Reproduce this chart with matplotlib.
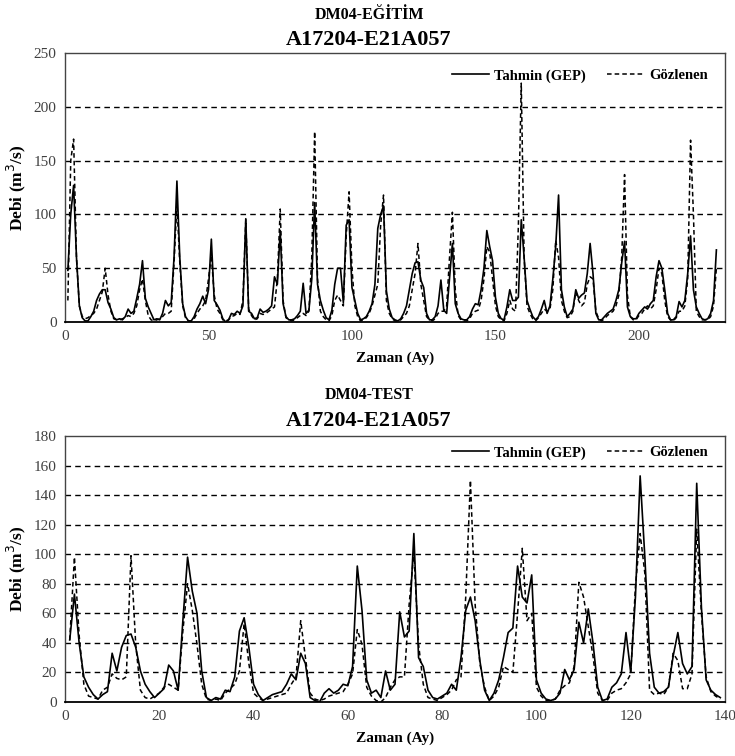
import numpy as np
import matplotlib
matplotlib.use("Agg")
import matplotlib.pyplot as plt

plt.rcParams['font.family'] = ['Liberation Serif', 'DejaVu Serif']

# ---- training period (EĞİTİM), months 1..227
pred_train = [
    48, 100, 127, 60, 15, 4, 1, 1, 5, 10, 20, 26,
    30, 30, 18, 12, 4, 2, 3, 2, 5, 12, 8, 10,
    22, 35, 57, 22, 14, 8, 2, 3, 2, 8, 20, 15,
    18, 60, 131, 60, 17, 5, 1, 1, 5, 12, 17, 24,
    17, 30, 77, 20, 16, 11, 3, 0, 2, 8, 7, 10,
    8, 15, 96, 10, 8, 3, 4, 12, 9, 10, 12, 15,
    42, 35, 85, 17, 5, 2, 2, 3, 6, 10, 36, 8,
    11, 40, 111, 35, 20, 11, 4, 2, 11, 35, 50, 50,
    18, 90, 95, 32, 20, 8, 2, 3, 5, 10, 17, 35,
    87, 100, 108, 29, 12, 4, 2, 1, 3, 8, 15, 30,
    45, 55, 56, 39, 32, 8, 2, 2, 5, 15, 39, 11,
    8, 40, 73, 17, 8, 3, 2, 2, 5, 12, 17, 16,
    30, 50, 85, 70, 57, 23, 8, 3, 2, 14, 30, 20,
    20, 23, 95, 60, 20, 12, 5, 2, 5, 12, 20, 8,
    15, 40, 70, 118, 30, 14, 5, 8, 12, 30, 22, 25,
    27, 45, 73, 45, 8, 2, 2, 5, 8, 10, 12, 20,
    30, 55, 75, 14, 5, 3, 3, 8, 11, 14, 12, 17,
    20, 42, 57, 50, 30, 8, 2, 2, 5, 19, 14, 20,
    45, 80, 30, 14, 8, 3, 2, 3, 8, 20, 67,
]
obs_train = [
    20, 150, 170, 60, 15, 5, 3, 4, 6, 8, 12, 20,
    28, 50, 25, 10, 3, 2, 2, 3, 4, 6, 5, 8,
    15, 30, 40, 20, 6, 2, 1, 2, 3, 5, 8, 8,
    10, 55, 110, 55, 15, 4, 1, 1, 3, 8, 12, 15,
    20, 40, 62, 25, 12, 8, 2, 1, 2, 5, 6, 8,
    7, 20, 95, 12, 6, 2, 3, 8, 7, 8, 10, 12,
    14, 40, 105, 20, 4, 2, 1, 2, 4, 6, 8, 6,
    10, 60, 177, 40, 10, 5, 2, 1, 6, 20, 25, 20,
    15, 80, 121, 50, 15, 5, 1, 2, 4, 8, 15, 25,
    35, 90, 118, 20, 8, 3, 1, 1, 2, 5, 8, 15,
    30, 45, 73, 35, 20, 5, 2, 1, 3, 8, 10, 10,
    15, 60, 102, 30, 6, 2, 1, 1, 3, 8, 10, 11,
    20, 40, 70, 65, 40, 15, 5, 2, 1, 8, 20, 12,
    10, 90, 222, 60, 15, 8, 3, 1, 4, 8, 12, 10,
    12, 30, 76, 60, 20, 10, 4, 5, 10, 28, 20, 15,
    18, 35, 42, 40, 10, 3, 1, 3, 6, 8, 10, 15,
    25, 60, 137, 25, 5, 2, 2, 6, 8, 12, 15, 12,
    15, 30, 50, 45, 20, 5, 2, 1, 4, 10, 10, 15,
    40, 169, 100, 10, 5, 2, 2, 2, 5, 15, 50,
]

# ---- test period, months 1..139
pred_test = [
    42, 73, 40, 17, 10, 5, 2, 5, 7, 33, 21, 37,
    45, 46, 37, 21, 12, 7, 3, 6, 9, 25, 21, 8,
    55, 98, 75, 60, 21, 3, 1, 3, 2, 8, 7, 17,
    48, 57, 37, 12, 5, 1, 3, 5, 6, 7, 12, 19,
    15, 33, 26, 3, 1, 0, 6, 9, 6, 8, 12, 11,
    24, 92, 62, 15, 6, 8, 3, 21, 8, 12, 61, 44,
    48, 114, 30, 24, 8, 3, 2, 4, 6, 12, 8, 30,
    62, 71, 55, 28, 8, 1, 6, 15, 30, 47, 50, 92,
    71, 67, 86, 15, 6, 2, 1, 2, 6, 22, 15, 22,
    54, 40, 63, 40, 10, 1, 2, 10, 13, 19, 47, 20,
    71, 153, 98, 33, 10, 6, 7, 10, 31, 47, 26, 19,
    24, 148, 64, 15, 8, 5, 3,
]
obs_test = [
    42, 98, 45, 12, 4, 3, 2, 8, 10, 19, 16, 15,
    17, 99, 39, 8, 3, 2, 4, 6, 10, 12, 10, 8,
    48, 80, 62, 39, 12, 2, 1, 2, 1, 6, 9, 12,
    21, 53, 26, 6, 3, 1, 2, 3, 4, 5, 6, 12,
    17, 55, 30, 6, 2, 1, 2, 4, 5, 6, 7, 12,
    19, 49, 39, 10, 4, 1, 0, 3, 10, 15, 17, 17,
    66, 101, 39, 12, 3, 2, 1, 3, 5, 8, 15, 17,
    71, 150, 66, 26, 10, 1, 4, 10, 24, 22, 20, 60,
    104, 55, 60, 10, 4, 1, 1, 2, 8, 11, 13, 24,
    81, 71, 51, 31, 6, 1, 1, 6, 8, 9, 13, 19,
    78, 114, 87, 8, 5, 6, 5, 10, 33, 28, 9, 9,
    19, 117, 60, 17, 7, 4, 2,
]

months_train = np.arange(1, len(pred_train) + 1)
months_test = np.arange(1, len(pred_test) + 1)

fig = plt.figure(figsize=(7.35, 7.56), dpi=100)
W, H = 735, 756


def setup(ax, ymax, ystep, xmax, xstep):
    ax.set_xlim(0, xmax)
    ax.set_ylim(0, ymax)
    ax.set_xticks(np.arange(0, xmax + 1, xstep))
    ax.set_yticks(np.arange(0, ymax + 1, ystep))
    for y in np.arange(ystep, ymax, ystep):
        ax.axhline(y, color='black', lw=1.0, ls=(0, (4, 3)), zorder=1)
    ax.tick_params(length=0, labelsize=11, pad=6, labelcolor='#404040')
    for s in ['top', 'right', 'left']:
        ax.spines[s].set_color('#444444')
        ax.spines[s].set_linewidth(1.0)
    ax.spines['bottom'].set_color('black')
    ax.spines['bottom'].set_linewidth(1.3)
    ax.set_ylabel('Debi (m$^3$/s)', fontsize=12.5, fontweight='bold')
    ax.set_xlabel('Zaman (Ay)', fontsize=11, fontweight='bold', labelpad=6)


def draw(ax, x, pred, obs, leg_y):
    ax.plot(x, pred, color='black', lw=1.2, label='Tahmin (GEP)', zorder=3)
    ax.plot(x, obs, color='black', lw=1.1, ls=(0, (3, 2)), label='Gözlenen', zorder=3)
    ax.legend(loc='upper right', bbox_to_anchor=(0.975, leg_y), ncol=2, frameon=False,
              prop={'weight': 'bold', 'size': 10.5}, handlelength=2.6, handletextpad=0.3,
              columnspacing=1.5, borderpad=0, borderaxespad=0)


# top chart
ax1 = fig.add_axes([65 / W, 1 - 322 / H, 660 / W, 269 / H])
setup(ax1, 250, 50, 230, 50)
draw(ax1, months_train, pred_train, obs_train, 0.94)
fig.text(369 / W, 1 - 15 / H, 'DM04-EĞİTİM', ha='center', va='center', fontsize=11.5, fontweight='bold')
fig.text(369 / W, 1 - 40 / H, 'A17204-E21A057', ha='center', va='center', fontsize=16, fontweight='bold')

# bottom chart
ax2 = fig.add_axes([65 / W, 1 - 702 / H, 660 / W, 266 / H])
setup(ax2, 180, 20, 140, 20)
draw(ax2, months_test, pred_test, obs_test, 0.962)
fig.text(369 / W, 1 - 395 / H, 'DM04-TEST', ha='center', va='center', fontsize=11.5, fontweight='bold')
fig.text(369 / W, 1 - 421 / H, 'A17204-E21A057', ha='center', va='center', fontsize=16, fontweight='bold')

fig.savefig('out.png', dpi=100)
